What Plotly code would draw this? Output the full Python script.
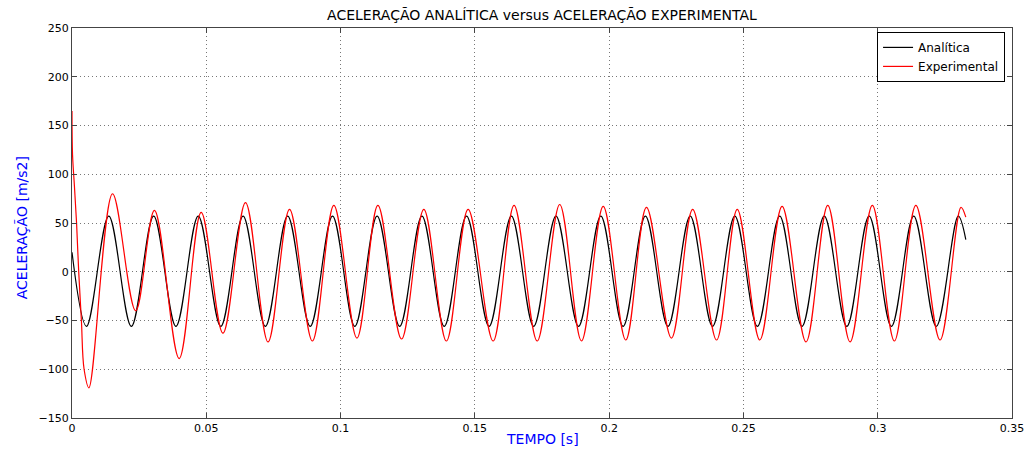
import plotly.graph_objects as go

# ---- Data (extrema / key points, time in s, accel in m/s2) ----
analitica_t = [0.0, 0.0054, 0.0137, 0.0221, 0.0304, 0.0387, 0.0470, 0.0554, 0.0637, 0.0720,
               0.0803, 0.0887, 0.0970, 0.1053, 0.1136, 0.1220, 0.1303, 0.1386, 0.1469, 0.1553,
               0.1636, 0.1719, 0.1802, 0.1886, 0.1969, 0.2052, 0.2135, 0.2219, 0.2302, 0.2385,
               0.2468, 0.2552, 0.2635, 0.2718, 0.2801, 0.2885, 0.2968, 0.3051, 0.3134, 0.3218,
               0.3300, 0.3328]
analitica_a = [20, -56, 57, -56, 57, -56, 57, -56, 57, -56,
               57, -56, 57, -56, 57, -56, 57, -56, 57, -56,
               57, -56, 57, -56, 57, -56, 57, -56, 57, -56,
               57, -56, 57, -56, 57, -56, 57, -56, 57, -56,
               57, 33]

experimental_t = [0.0, 0.0002, 0.0009, 0.0017, 0.0025, 0.0035, 0.0045, 0.0063,
                  0.0151, 0.0237, 0.0307, 0.0399, 0.0481, 0.0562, 0.0646, 0.0730,
                  0.0810, 0.0895, 0.0975, 0.1061, 0.1139, 0.1227, 0.1310, 0.1394,
                  0.1475, 0.1568, 0.1646, 0.1732, 0.1816, 0.1897, 0.1978, 0.2062,
                  0.2139, 0.2232, 0.2311, 0.2400, 0.2477, 0.2561, 0.2644, 0.2733,
                  0.2814, 0.2897, 0.2980, 0.3062, 0.3142, 0.3232, 0.3310, 0.3328]
experimental_a = [165, 120, 88, 50, 0, -50, -100, -119,
                  80, -40, 63, -89, 61, -63, 71, -72,
                  64, -71, 68, -68, 68, -69, 64, -71,
                  64, -71, 68, -71, 69, -71, 67, -70,
                  66, -68, 64, -70, 64, -70, 67, -72,
                  68, -72, 68, -71, 68, -70, 66, 56]

x_ticks = [0, 0.05, 0.1, 0.15, 0.2, 0.25, 0.3, 0.35]
x_tick_labels = ["0", "0.05", "0.1", "0.15", "0.2", "0.25", "0.3", "0.35"]
y_ticks = [-150, -100, -50, 0, 50, 100, 150, 200, 250]

title_text = "ACELERAÇÃO ANALÍTICA versus ACELERAÇÃO EXPERIMENTAL"
x_title = "TEMPO [s]"
y_title = "ACELERAÇÃO [m/s2]"

FONT = "DejaVu Sans"

fig = go.Figure()
fig.add_trace(go.Scatter(x=analitica_t, y=analitica_a, mode="lines", name="Analítica",
                         line=dict(color="black", width=1.2, shape="spline", smoothing=1.0)))
fig.add_trace(go.Scatter(x=experimental_t, y=experimental_a, mode="lines", name="Experimental",
                         line=dict(color="red", width=1.2, shape="spline", smoothing=1.0)))

axis_common = dict(
    showgrid=True, gridcolor="#777777", griddash="1px,3px", gridwidth=1,
    showline=True, linecolor="#444444", linewidth=1, mirror="allticks",
    ticks="inside", ticklen=5, tickcolor="#444444",
    zeroline=False, automargin=False, ticklabeloverflow="allow",
    tickfont=dict(family=FONT, size=11, color="black"),
)

fig.update_layout(
    width=1032, height=450,
    margin=dict(l=72, r=20, t=28, b=32, autoexpand=False),
    paper_bgcolor="white", plot_bgcolor="white",
    font=dict(family=FONT, size=12, color="black"),
    title=dict(text=title_text, x=0.5, xref="paper", xanchor="center",
               y=0.967, yanchor="middle", yref="container", automargin=False,
               font=dict(family=FONT, size=14, color="black")),
    xaxis=dict(range=[0, 0.35], tickvals=x_ticks, ticktext=x_tick_labels, **axis_common),
    yaxis=dict(range=[-150, 250], tickvals=y_ticks, **axis_common),
    legend=dict(x=0.9926, y=0.99, xanchor="right", yanchor="top",
                bgcolor="white", bordercolor="black", borderwidth=1,
                font=dict(family=FONT, size=12, color="black"),
                tracegroupgap=0, itemwidth=30),
    showlegend=True,
    annotations=[
        dict(text=x_title, xref="paper", yref="paper", x=0.5, y=-0.053,
             xanchor="center", yanchor="middle", showarrow=False,
             font=dict(family=FONT, size=14, color="blue")),
        dict(text=y_title, xref="paper", yref="paper", x=-0.053, y=0.487,
             xanchor="center", yanchor="middle", showarrow=False, textangle=-90,
             font=dict(family=FONT, size=14, color="blue")),
    ],
)

fig.write_html("out.html",
               config={"displayModeBar": False},
               post_script="document.body.style.margin='0';document.body.style.overflow='hidden';")
